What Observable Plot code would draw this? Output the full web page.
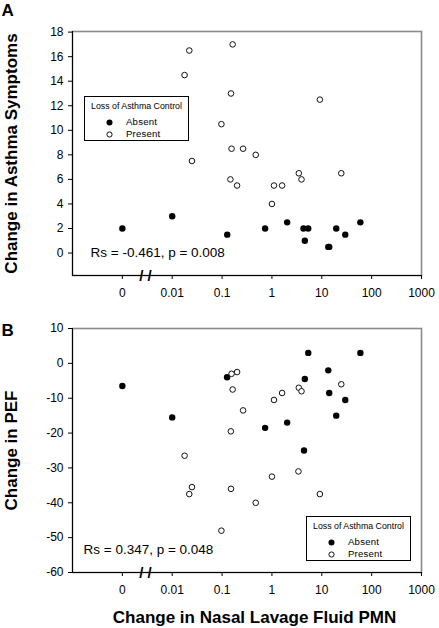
<!DOCTYPE html>
<html>
<head>
<meta charset="utf-8">
<script src="https://cdn.jsdelivr.net/npm/d3@7"></script>
<script src="https://cdn.jsdelivr.net/npm/@observablehq/plot@0.6"></script>
<style>
  html, body { margin: 0; padding: 0; background: #fff; }
  #chart { position: relative; width: 439px; height: 628px; font-family: "Liberation Sans", Arial, sans-serif; }
  #chart svg { display: block; }
  .legend { position: absolute; width: 105px; height: 45px; border: 1px solid #000; box-sizing: border-box; background: #fff; color: #000; }
  .legend .ttl { position: absolute; left: 0; right: 0; top: 3px; text-align: center; font-size: 8.8px; line-height: 12px; white-space: nowrap; }
  .legend .row { position: absolute; left: 0; height: 12px; font-size: 9.6px; line-height: 12px; white-space: nowrap; }
  .legend .row svg { position: absolute; left: 20px; top: 2px; }
  .legend .row span { position: absolute; left: 41px; top: 0; letter-spacing: 0.2px; }
</style>
</head>
<body>
<div id="chart"></div>
<script>
// ----- data -----
const xTickValues = [0.001, 0.01, 0.1, 1, 10, 100, 1000];
const xTickLabels = ["0", "0.01", "0.1", "1", "10", "100", "1000"];
const xDomain = [0.0001, 1000];
const zeroAt = 0.001;      // where the value 0 sits on the broken log axis
const breakAt = 0.0029;    // axis break mark

// Panel A: Change in Asthma Symptoms
const absentXA = [0, 0.01, 0.127, 0.73, 2.02, 4.3, 4.57, 5.35, 13.5, 14.1, 19.5, 29.6, 59.4];
const absentYA = [2, 3, 1.5, 2, 2.5, 2, 1, 2, 0.5, 0.5, 2, 1.5, 2.5];
const presentXA = [0.0177, 0.022, 0.0249, 0.097, 0.147, 0.151, 0.155, 0.163, 0.2, 0.264, 0.473, 1.0, 1.1, 1.6, 3.46, 3.92, 9.15, 24.6];
const presentYA = [14.5, 16.5, 7.5, 10.5, 6, 13, 8.5, 17, 5.5, 8.5, 8, 4, 5.5, 5.5, 6.5, 6, 12.5, 6.5];
const yTicksA = [0, 2, 4, 6, 8, 10, 12, 14, 16, 18];
const yDomainA = [-1.83, 18.05];

// Panel B: Change in PEF
const absentXB = [0, 0.01, 0.126, 0.73, 2.02, 4.4, 4.57, 5.35, 13.5, 14.1, 19.5, 29.6, 59.4];
const absentYB = [-6.5, -15.5, -4, -18.5, -17, -25, -4.5, 3, -2, -8.5, -15, -10.5, 3];
const presentXB = [0.0177, 0.022, 0.0249, 0.097, 0.15, 0.151, 0.155, 0.163, 0.2, 0.264, 0.473, 1.0, 1.1, 1.6, 3.4, 3.46, 3.92, 9.15, 24.6];
const presentYB = [-26.5, -37.5, -35.5, -48, -19.5, -36, -3, -7.5, -2.5, -13.5, -40, -32.5, -10.5, -8.5, -31, -7, -8, -37.5, -6];
const yTicksB = [-60, -50, -40, -30, -20, -10, 0, 10];
const yDomainB = [-60, 10];

const legendTitle = "Loss of Asthma Control";
const legendItems = ["Absent", "Present"];

// ----- drawing -----
const FONT = "Liberation Sans, Arial, sans-serif";
const toX = v => (v === 0 ? zeroAt : v);
const fmtX = v => xTickLabels[xTickValues.indexOf(v)] ?? String(v);
const fmtY = v => String(v);

function panel(o) {
  const absent = o.absentX.map((x, i) => ({x, y: o.absentY[i]}));
  const present = o.presentX.map((x, i) => ({x, y: o.presentY[i]}));
  const marks = [
    Plot.frame({stroke: "#8a8a8a", strokeWidth: 1.6}),
    Plot.ruleX([xDomain[0]], {stroke: "#000", strokeWidth: 1}),
    Plot.ruleY([o.yDomain[0]], {stroke: "#000", strokeWidth: 1}),
    Plot.axisY({ticks: o.yTicks, tickSize: 4, tickPadding: 5, tickFormat: fmtY, label: null, fontSize: 12}),
    Plot.axisX({ticks: xTickValues, tickSize: 4, tickPadding: 9, tickFormat: fmtX, label: null, fontSize: 12}),
    Plot.text(["/ /"], {x: () => breakAt, y: () => o.yDomain[0], fontSize: 15, fontWeight: "bold", lineAnchor: "middle", dy: 1}),
    Plot.dot(absent, {x: d => toX(d.x), y: "y", r: 3.2, fill: "#000", stroke: "none"}),
    Plot.dot(present, {x: d => toX(d.x), y: "y", r: 2.8, fill: "#fff", stroke: "#111", strokeWidth: 1}),
    Plot.text([o.stat], {frameAnchor: "bottom-left", dx: o.statDx, dy: -23, textAnchor: "start", lineAnchor: "middle", fontSize: 13.5}),
    Plot.text([o.yLabel], {frameAnchor: "left", dx: -61, rotate: -90, fontSize: 17, fontWeight: "bold", lineAnchor: "middle", textAnchor: "middle"}),
    Plot.text([o.panelLabel], {frameAnchor: "top-left", dx: -71, dy: o.labelDy, textAnchor: "start", lineAnchor: "bottom", fontSize: 17, fontWeight: "bold"})
  ];
  if (o.xTitle) {
    marks.push(Plot.text([o.xTitle], {frameAnchor: "bottom", dx: 7.5, dy: 45, lineAnchor: "middle", fontSize: 17, fontWeight: "bold"}));
  }
  return Plot.plot({
    width: 439,
    height: o.height,
    marginLeft: 72,
    marginRight: 18,
    marginTop: o.marginTop,
    marginBottom: o.marginBottom,
    style: {fontFamily: FONT, fontSize: "12px", background: "#fff", color: "#000", overflow: "visible"},
    x: {type: "log", domain: xDomain},
    y: {domain: o.yDomain},
    marks
  });
}

function legend(left, top) {
  const div = document.createElement("div");
  div.className = "legend";
  div.style.left = left + "px";
  div.style.top = top + "px";
  const t = document.createElement("div");
  t.className = "ttl";
  t.textContent = legendTitle;
  div.appendChild(t);
  legendItems.forEach((name, i) => {
    const row = document.createElement("div");
    row.className = "row";
    row.style.top = (18.5 + i * 12) + "px";
    const filled = i === 0;
    row.innerHTML = `<svg width="9" height="9"><circle cx="4.5" cy="4.5" r="${filled ? 3 : 2.6}" fill="${filled ? "#000" : "#fff"}" stroke="${filled ? "none" : "#111"}" stroke-width="1"/></svg><span>${name}</span>`;
    div.appendChild(row);
  });
  return div;
}

const chart = document.getElementById("chart");
chart.appendChild(panel({
  absentX: absentXA, absentY: absentYA, presentX: presentXA, presentY: presentYA,
  yDomain: yDomainA, yTicks: yTicksA, height: 305, marginTop: 31, marginBottom: 30,
  yLabel: "Change in Asthma Symptoms", panelLabel: "A", labelDy: -16,
  stat: "Rs = -0.461, p = 0.008", statDx: 18
}));
chart.appendChild(panel({
  absentX: absentXB, absentY: absentYB, presentX: presentXB, presentY: presentYB,
  yDomain: yDomainB, yTicks: yTicksB, height: 323, marginTop: 23, marginBottom: 56,
  yLabel: "Change in PEF", panelLabel: "B", labelDy: 7,
  stat: "Rs = 0.347, p = 0.048", statDx: 11,
  xTitle: "Change in Nasal Lavage Fluid PMN"
}));
chart.appendChild(legend(84, 96));
chart.appendChild(legend(306, 516));
</script>
</body>
</html>
